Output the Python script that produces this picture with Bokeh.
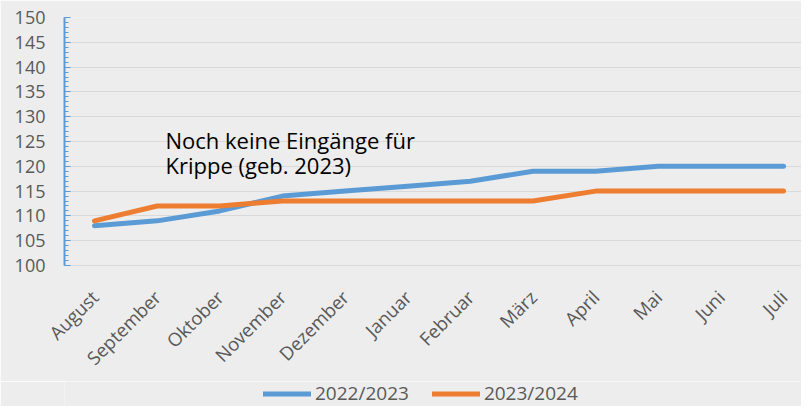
from bokeh.plotting import figure
from bokeh.layouts import column
from bokeh.models import Range1d, FixedTicker, SingleIntervalTicker, Label, Legend, LegendItem
from bokeh.embed import file_html
from bokeh.resources import INLINE

months = ["August", "September", "Oktober", "November", "Dezember", "Januar",
          "Februar", "März", "April", "Mai", "Juni", "Juli"]
s2022 = [108, 109, 111, 114, 115, 116, 117, 119, 119, 120, 120, 120]
s2023 = [109, 112, 112, 113, 113, 113, 113, 113, 115, 115, 115, 115]
series_names = ["2022/2023", "2023/2024"]
note_lines = ["Noch keine Eingänge für", "Krippe (geb. 2023)"]
colors = ["#5b9bd5", "#ed7d31"]

xs = list(range(len(months)))
BG = "#ededed"
FONT = "Open Sans"
W = 801

p = figure(width=W, height=381, output_backend="svg", toolbar_location=None,
           x_range=Range1d(-0.479, 11.287), y_range=Range1d(100, 150),
           min_border_left=64, min_border_right=0, min_border_top=17, min_border_bottom=114)
p.background_fill_color = BG
p.border_fill_color = BG
p.outline_line_color = None

# y axis
p.yaxis.ticker = SingleIntervalTicker(interval=5, num_minor_ticks=5)
p.yaxis.axis_line_color = colors[0]
p.yaxis.axis_line_width = 2
p.yaxis.major_tick_line_color = colors[0]
p.yaxis.minor_tick_line_color = colors[0]
p.yaxis.major_tick_in = 6
p.yaxis.major_tick_out = 0
p.yaxis.minor_tick_in = 4
p.yaxis.minor_tick_out = 0
p.yaxis.major_label_standoff = 19
p.yaxis.major_label_text_font = FONT
p.yaxis.major_label_text_font_size = "18px"
p.yaxis.major_label_text_color = "#595959"

# x axis
p.xaxis.ticker = FixedTicker(ticks=xs)
p.xaxis.major_label_overrides = {i: m for i, m in zip(xs, months)}
p.xaxis.major_label_orientation = 0.785398
p.xaxis.axis_line_color = "#d9d9d9"
p.xaxis.major_tick_line_color = None
p.xaxis.minor_tick_line_color = None
p.xaxis.major_label_standoff = 22
p.xaxis.major_label_text_font = FONT
p.xaxis.major_label_text_font_size = "18.5px"
p.xaxis.major_label_text_color = "#595959"

p.xgrid.grid_line_color = None
p.ygrid.ticker = SingleIntervalTicker(interval=5)
p.ygrid.grid_line_color = "#d9d9d9"
p.ygrid.grid_line_width = 1

p.line(xs, s2022, line_color=colors[0], line_width=5, line_join="round", line_cap="round")
p.line(xs, s2023, line_color=colors[1], line_width=5, line_join="round", line_cap="round")

for txt, yv in zip(note_lines, [125.4, 120.2]):
    p.add_layout(Label(x=1.133, y=yv, text=txt, text_font=FONT, text_font_size="22px",
                       text_color="#000000", text_baseline="alphabetic"))

# legend strip below the chart (same series, out of its visible range)
q = figure(width=W, height=25, output_backend="svg", toolbar_location=None,
           x_range=p.x_range, y_range=Range1d(0, 1),
           min_border_left=0, min_border_right=0, min_border_top=0, min_border_bottom=0)
q.background_fill_color = BG
q.border_fill_color = BG
q.outline_line_color = None
q.axis.visible = False
q.grid.grid_line_color = None
l1 = q.line(xs, s2022, line_color=colors[0], line_width=5, line_cap="round")
l2 = q.line(xs, s2023, line_color=colors[1], line_width=5, line_cap="round")

legend = Legend(items=[LegendItem(label=series_names[0], renderers=[l1]),
                       LegendItem(label=series_names[1], renderers=[l2])],
                orientation="horizontal", location=(199, 0),
                background_fill_alpha=0, border_line_color=None,
                label_text_font=FONT, label_text_font_size="19px", label_text_color="#595959",
                label_height=19, glyph_height=19,
                glyph_width=48, label_standoff=4, spacing=23, margin=0, padding=3)
q.add_layout(legend, "center")

layout = column(p, q, spacing=0)
open("out.html", "w").write(file_html(layout, INLINE))
